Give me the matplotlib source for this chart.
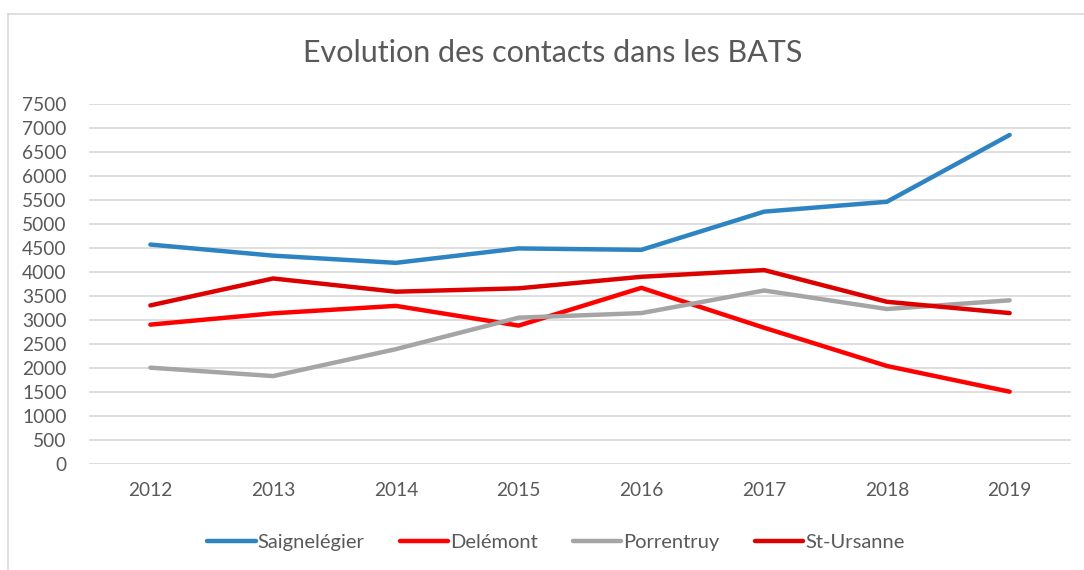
import matplotlib
matplotlib.use("Agg")
import matplotlib.pyplot as plt
from matplotlib.lines import Line2D

years = ['2012', '2013', '2014', '2015', '2016', '2017', '2018', '2019']
saignelegier = [4570, 4340, 4190, 4490, 4460, 5255, 5460, 6850]
delemont = [2905, 3140, 3295, 2885, 3670, 2840, 2045, 1510]
porrentruy = [2010, 1835, 2395, 3050, 3145, 3615, 3230, 3410]
st_ursanne = [3305, 3865, 3590, 3660, 3900, 4040, 3380, 3145]

series = [
    ('Saignelégier', saignelegier, '#2E83C3'),
    ('Delémont', delemont, '#FF0000'),
    ('Porrentruy', porrentruy, '#A5A5A5'),
    ('St-Ursanne', st_ursanne, '#DD0000'),
]

plt.rcParams['font.family'] = ['Lato', 'DejaVu Sans']
text_col = '#595959'

fig = plt.figure(figsize=(10.84, 5.70), dpi=100)
ax = fig.add_axes([89 / 1084, (570 - 464.3) / 570, (1071 - 89) / 1084, (464.3 - 103.7) / 570])

x = list(range(len(years)))
for name, vals, col in series:
    ax.plot(x, vals, color=col, lw=3.2, solid_capstyle='round', solid_joinstyle='round', label=name)

ax.set_xlim(-0.5, len(years) - 0.5)
ax.set_ylim(0, 7500)
ax.set_yticks(range(0, 7501, 500))
ax.set_xticks(x)
ax.set_xticklabels(years)
ax.yaxis.grid(True, color='#D9D9D9', lw=1.2)
ax.set_axisbelow(True)
for s in ax.spines.values():
    s.set_visible(False)
ax.tick_params(axis='both', length=0, colors=text_col, labelsize=13.8)
ax.tick_params(axis='y', pad=16)
ax.tick_params(axis='x', pad=13)

fig.text(553 / 1084, 1 - 53 / 570, 'Evolution des contacts dans les BATS',
         ha='center', va='center', fontsize=22, color=text_col)

# chart border (top and left visible)
fig.add_artist(Line2D([8 / 1084, 1], [1 - 13.5 / 570, 1 - 13.5 / 570], color='#D9D9D9', lw=1.2))
fig.add_artist(Line2D([8 / 1084, 8 / 1084], [0, 1 - 13.5 / 570], color='#D9D9D9', lw=1.2))

handles = [Line2D([], [], color=col, lw=3.2, solid_capstyle='round') for _, _, col in series]
fig.legend(handles, [s[0] for s in series], loc='center', bbox_to_anchor=(556 / 1084, 1 - 542 / 570),
           ncol=4, frameon=False, fontsize=14.5, labelcolor=text_col, handlelength=2.4,
           handletextpad=0.1, columnspacing=1.75)

fig.savefig('out.png', dpi=100)
